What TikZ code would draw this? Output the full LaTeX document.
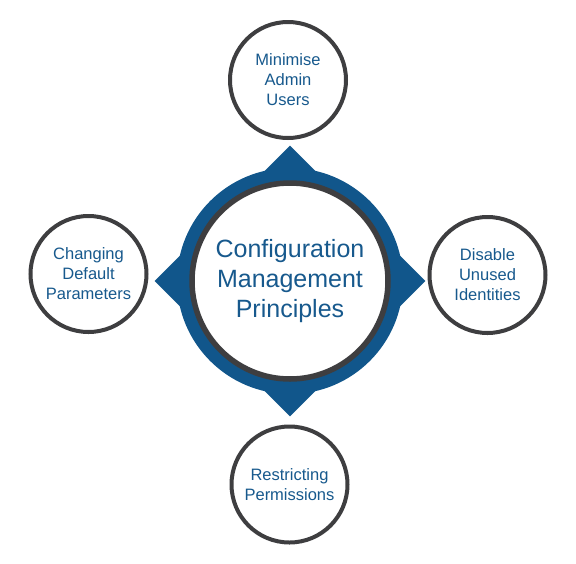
\documentclass[tikz,border=0pt]{standalone}
\usepackage{fontspec}
\setmainfont{Liberation Sans}
\usepackage{xcolor}
\usetikzlibrary{shapes.geometric}
\definecolor{hubblue}{HTML}{11568B}
\definecolor{labelblue}{HTML}{17598D}
\definecolor{rimgray}{HTML}{3E3E40}
\tikzset{
  principle/.style={circle,draw=rimgray,line width=4pt,fill=white,minimum size=116pt,
    inner sep=0pt,align=center,text=labelblue,font=\fontsize{16.5}{20}\selectfont},
  hubtext/.style={circle,draw=rimgray,line width=5.5pt,fill=white,minimum size=196pt,
    inner sep=0pt,align=center,text=labelblue,font=\fontsize{25}{30}\selectfont}
}
\begin{document}
\begin{tikzpicture}[x=1pt,y=-1pt]
\useasboundingbox (0,0) rectangle (576,563);
% blue compass behind the centre
\node[diamond,fill=hubblue,minimum width=271pt,minimum height=271pt,inner sep=0pt] (star) at (290,281) {};
\node[circle,fill=hubblue,minimum size=226pt,inner sep=0pt] (ring) at (290,281) {};
\node[hubtext] (hub) at (290,281) {Configuration\\Management\\Principles};
\node[principle] (admin) at (288,80) {Minimise\\Admin\\Users};
\node[principle] (unused) at (487.5,275) {Disable\\Unused\\Identities};
\node[principle] (perm) at (289.5,484.5) {Restricting\\Permissions};
\node[principle] (param) at (88.5,274) {Changing\\Default\\Parameters};
\end{tikzpicture}
\end{document}
